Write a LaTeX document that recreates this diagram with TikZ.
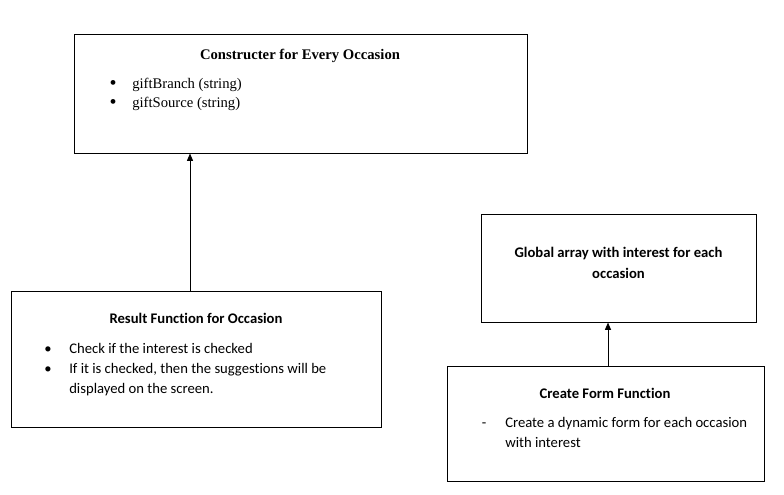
\documentclass[tikz,border=0pt]{standalone}
\usepackage{fontspec}
\setmainfont{Liberation Serif}
\newfontfamily\calibri[Ligatures=NoCommon]{Carlito}
\usetikzlibrary{arrows.meta,positioning}

\begin{document}
\begin{tikzpicture}[
    x=0.75pt, y=-0.75pt,
    box/.style = {draw=black, rectangle, inner sep=0pt, line width=0.75pt},
    serif/.style = {inner sep=0pt, font=\fontsize{11}{13}\selectfont},
    dot/.style = {inner sep=0pt, anchor=center, font=\fontsize{15}{15}\selectfont},
    sans/.style = {inner sep=0pt, font=\calibri\fontsize{11}{13}\selectfont},
    sansbf/.style = {inner sep=0pt, font=\calibri\fontsize{11}{13}\selectfont\bfseries},
    tip/.style = {-{Triangle[width=4.5pt,length=5.5pt]}, line width=0.75pt}]
    \useasboundingbox (0,0) rectangle (784,494);
    % NODES
    % constructor box
    \node[box, minimum width=339.75pt, minimum height=89.25pt] (ctor) at (300.5,93.5) {};
    \node[serif, font=\fontsize{11}{13}\selectfont\bfseries] (ctorT) at (300,55.5) {Constructer for Every Occasion};
    \node[dot] (ctorB1) at (113,84.5) {•};
    \node[serif, anchor=mid west] (ctorI1) at (132,85.5) {giftBranch (string)};
    \node[dot] (ctorB2) at (113,103.5) {•};
    \node[serif, anchor=mid west] (ctorI2) at (132,104.5) {giftSource (string)};
    % result box
    \node[box, minimum width=277.5pt, minimum height=102pt] (result) at (196,359) {};
    \node[sansbf] (resultT) at (196,318.5) {Result Function for Occasion};
    \node[sans, anchor=mid] (resultB1) at (48,350.5) {•};
    \node[sans, anchor=mid west] (resultI1) at (69,350.5) {Check if the interest is checked};
    \node[sans, anchor=mid] (resultB2) at (48,370.5) {•};
    \node[sans, anchor=mid west] (resultI2) at (69,370.5) {If it is checked, then the suggestions will be};
    \node[sans, anchor=mid west] (resultI3) at (69,390.5) {displayed on the screen.};
    % global array box
    \node[box, minimum width=206.25pt, minimum height=81pt] (global) at (618.5,268) {};
    \node[sansbf] (globalT1) at (618.5,253.5) {Global array with interest for each};
    \node[sansbf] (globalT2) at (618.5,273.5) {occasion};
    % create form box
    \node[box, minimum width=237.75pt, minimum height=86.25pt] (create) at (605.5,423.5) {};
    \node[sansbf] (createT) at (605,393.5) {Create Form Function};
    \node[sans, anchor=mid] (createD) at (484,424.5) {-};
    \node[sans, anchor=mid west] (createI1) at (505,424.5) {Create a dynamic form for each occasion};
    \node[sans, anchor=mid west] (createI2) at (505,444.5) {with interest};
    % arrow columns
    \coordinate (colA) at (190,0);
    \coordinate (colB) at (608,0);

    % ARROWS
    \draw[tip] (result.north -| colA) -- (ctor.south -| colA);
    \draw[tip] (create.north -| colB) -- (global.south -| colB);
\end{tikzpicture}
\end{document}
